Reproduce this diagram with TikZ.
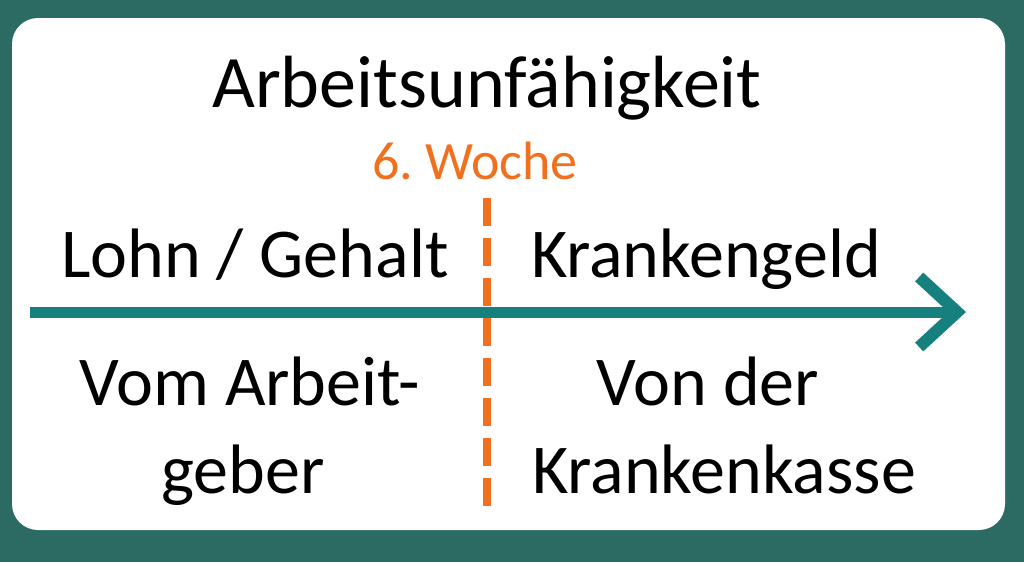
\documentclass[tikz,border=0pt]{standalone}
\usepackage{fontspec}
\setmainfont{Carlito}
\usetikzlibrary{arrows.meta}

\definecolor{bgteal}{RGB}{44,106,100}
\definecolor{arrowteal}{RGB}{22,128,126}
\definecolor{wochorange}{RGB}{240,112,30}

\tikzset{
	label text/.style={anchor=base, font=\fontsize{70}{84}\selectfont},
	title text/.style={anchor=base, font=\fontsize{74}{80}\selectfont},
	week text/.style={anchor=base, text=wochorange, font=\fontsize{54}{60}\selectfont},
}

\begin{document}
\begin{tikzpicture}[x=1pt, y=-1pt]
	\useasboundingbox (0,0) rectangle (1024,562);
	\fill[bgteal] (0,0) rectangle (1024,562);
	\fill[white, rounded corners=26pt] (12,18) rectangle (1005,530);
	
	\draw (487,107) node[title text] (titel) {Arbeitsunfähigkeit};
	\draw (475,179) node[week text] (woche) {6.\ Woche};
	
	\coordinate (start) at (30,312);
	\coordinate (ende) at (966,312);
	\coordinate (oben) at (487,198);
	\coordinate (unten) at (487,516);
	
	\draw[wochorange, line width=8pt, dash pattern=on 28pt off 12pt] (oben) -- (unten);
	\draw[arrowteal, line width=11pt, -{Straight Barb[length=38pt, width=70pt, line width=12pt]}] (start) -- (ende);
	
	\draw (255,277) node[label text] (lohn) {Lohn / Gehalt};
	\draw (706,277) node[label text] (krank) {Krankengeld};
	\draw (250,405) node[label text] (arbeit) {Vom Arbeit-};
	\draw (243,493) node[label text] (geber) {geber};
	\draw (708,405) node[label text] (vonder) {Von der};
	\draw (724,493) node[label text] (kasse) {Krankenkasse};
\end{tikzpicture}
\end{document}
